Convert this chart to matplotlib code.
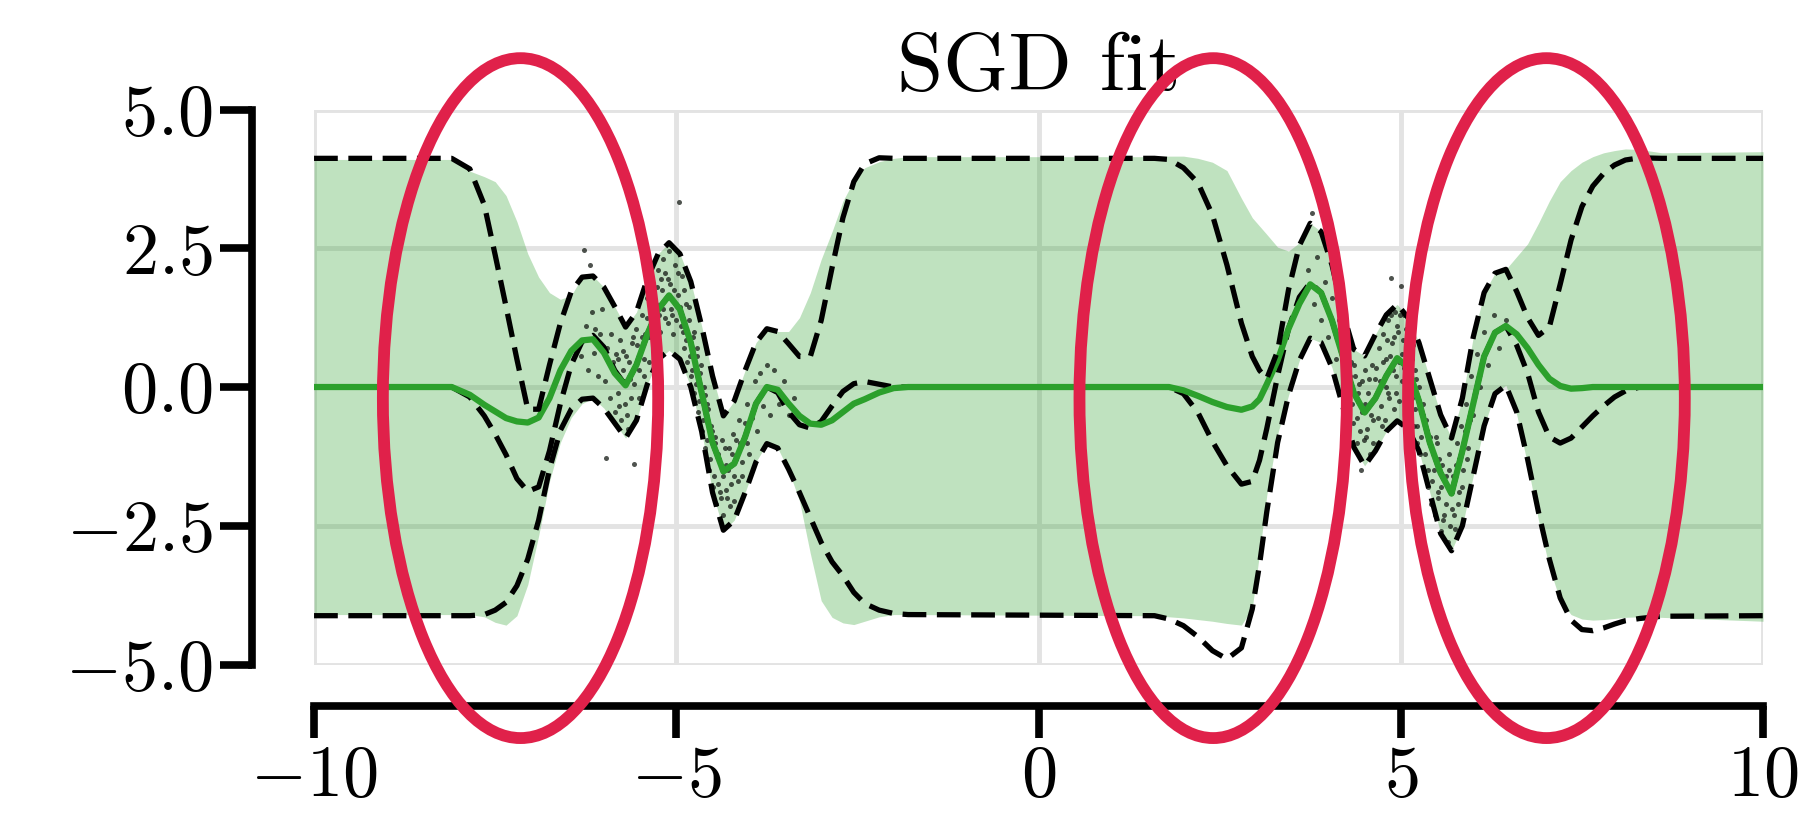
import matplotlib
matplotlib.use("Agg")
import matplotlib.pyplot as plt
from matplotlib.patches import Ellipse

# ---- data ----
x = [-10, -8.1, -7.85, -7.65, -7.5, -7.35, -7.2, -7.05, -6.9, -6.75,
     -6.6, -6.45, -6.3, -6.15, -6.0, -5.85, -5.7, -5.55, -5.4, -5.25,
     -5.1, -4.95, -4.8, -4.65, -4.5, -4.35, -4.2, -4.05, -3.9, -3.75,
     -3.6, -3.45, -3.3, -3.15, -3.0, -2.85, -2.7, -2.55, -2.4, -2.2,
     -2.0, -1.8,
     1.6, 1.8, 2.0, 2.2, 2.4, 2.6, 2.8, 2.95, 3.05, 3.15,
     3.3, 3.45, 3.6, 3.75, 3.9, 4.05, 4.2, 4.35, 4.5, 4.65,
     4.8, 4.95, 5.1, 5.25, 5.4, 5.55, 5.7, 5.85, 6.0, 6.15,
     6.3, 6.45, 6.6, 6.75, 6.9, 7.05, 7.2, 7.35, 7.5, 7.65,
     7.8, 7.95, 8.1, 8.3, 8.6, 10]

# SGD posterior mean (green line)
sgd_mean = [0, 0, -0.14, -0.32, -0.44, -0.56, -0.62, -0.64, -0.55, -0.20,
            0.30, 0.65, 0.84, 0.86, 0.62, 0.25, 0.03, 0.40, 0.95, 1.40,
            1.65, 1.40, 0.80, -0.10, -1.00, -1.52, -1.38, -0.90, -0.30, 0.00,
            -0.05, -0.30, -0.52, -0.66, -0.68, -0.60, -0.45, -0.30, -0.22, -0.10,
            -0.02, 0,
            0, 0, -0.06, -0.16, -0.27, -0.36, -0.41, -0.35, -0.22, 0.05,
            0.48, 1.05, 1.50, 1.85, 1.70, 1.20, 0.55, -0.10, -0.46, -0.20,
            0.20, 0.52, 0.35, -0.25, -1.00, -1.55, -1.92, -1.15, -0.30, 0.55,
            0.98, 1.10, 0.95, 0.70, 0.40, 0.15, 0.02, -0.03, -0.02, 0,
            0, 0, 0, 0, 0, 0]

# SGD +/- 2 std band (green fill)
sgd_upper = [4.10, 4.10, 3.89, 3.79, 3.70, 3.45, 2.98, 2.40, 1.98, 1.70,
             1.58, 1.65, 1.98, 2.00, 1.80, 1.45, 1.08, 1.35, 1.95, 2.40,
             2.60, 2.40, 1.90, 1.10, 0.20, -0.52, -0.25, 0.30, 0.80, 1.05,
             1.00, 1.00, 1.25, 1.70, 2.30, 2.80, 3.35, 3.72, 3.95, 4.06,
             4.12, 4.15,
             4.15, 4.16, 4.16, 4.12, 4.05, 3.90, 3.40, 3.05, 2.90, 2.75,
             2.52, 2.45, 2.60, 2.95, 2.80, 2.20, 1.35, 0.68, 0.56, 0.95,
             1.30, 1.49, 1.25, 0.80, 0.15, -0.50, -0.92, -0.20, 0.90, 1.70,
             2.05, 2.12, 2.35, 2.58, 2.95, 3.35, 3.70, 3.90, 4.05, 4.15,
             4.22, 4.26, 4.29, 4.28, 4.22, 4.24]
sgd_lower = [-4.10, -4.10, -4.10, -4.14, -4.24, -4.29, -4.12, -3.56, -2.68, -1.70,
             -1.00, -0.55, -0.30, -0.20, -0.38, -0.65, -0.92, -0.60, 0.05, 0.50,
             0.66, 0.50, 0.00, -0.80, -1.90, -2.58, -2.40, -1.90, -1.35, -1.02,
             -1.10, -1.50, -2.05, -3.00, -3.85, -4.15, -4.25, -4.28, -4.22, -4.14,
             -4.10, -4.10,
             -4.12, -4.14, -4.16, -4.19, -4.22, -4.26, -4.29, -3.98, -3.00, -1.95,
             -0.85, -0.15, 0.48, 0.88, 0.80, 0.35, -0.35, -1.08, -1.42, -1.15,
             -0.80, -0.61, -0.75, -1.15, -1.90, -2.64, -2.95, -2.50, -1.60, -0.70,
             -0.12, 0.03, -0.50, -1.40, -2.40, -3.25, -3.85, -4.10, -4.18, -4.20,
             -4.19, -4.17, -4.15, -4.14, -4.15, -4.22]

# exact GP mean and +/- 2 std (black dashed)
exact_mean = [0, 0, -0.18, -0.52, -0.85, -1.22, -1.65, -1.88, -1.80, -1.15,
              -0.30, 0.40, 0.82, 0.93, 0.72, 0.30, 0.03, 0.40, 0.95, 1.40,
              1.65, 1.40, 0.80, -0.10, -1.00, -1.52, -1.38, -0.90, -0.30, 0.00,
              -0.10, -0.45, -0.68, -0.74, -0.62, -0.34, -0.08, 0.06, 0.10, 0.05,
              0, 0,
              0, 0, -0.12, -0.46, -0.98, -1.42, -1.75, -1.70, -1.32, -0.75,
              0.20, 1.05, 1.62, 1.88, 1.70, 1.20, 0.55, -0.10, -0.46, -0.20,
              0.20, 0.52, 0.35, -0.25, -1.00, -1.55, -1.92, -1.15, -0.30, 0.55,
              0.98, 1.10, 0.75, 0.25, -0.45, -0.90, -1.01, -0.92, -0.72, -0.52,
              -0.34, -0.18, -0.07, 0, 0, 0]
exact_upper = [4.12, 4.12, 3.93, 3.28, 2.38, 1.45, 0.50, -0.40, -0.40, 0.40,
               1.15, 1.72, 1.98, 2.00, 1.80, 1.45, 1.08, 1.35, 1.95, 2.40,
               2.60, 2.40, 1.90, 1.10, 0.20, -0.52, -0.25, 0.30, 0.80, 1.05,
               1.00, 0.78, 0.55, 0.55, 1.20, 2.15, 3.05, 3.70, 4.02, 4.13,
               4.12, 4.12,
               4.12, 4.10, 3.95, 3.68, 3.10, 2.20, 1.15, 0.55, 0.30, 0.15,
               0.65, 1.75, 2.55, 2.95, 2.80, 2.20, 1.35, 0.68, 0.56, 0.95,
               1.30, 1.49, 1.25, 0.80, 0.15, -0.50, -0.92, -0.20, 0.90, 1.70,
               2.05, 2.12, 1.72, 1.25, 0.93, 1.08, 1.85, 2.65, 3.25, 3.62,
               3.85, 4.00, 4.09, 4.13, 4.12, 4.12]
exact_lower = [-4.12, -4.12, -4.12, -4.10, -4.02, -3.88, -3.58, -3.10, -2.40, -1.48,
               -0.78, -0.40, -0.22, -0.20, -0.38, -0.65, -0.92, -0.60, 0.05, 0.50,
               0.66, 0.50, 0.00, -0.80, -1.90, -2.58, -2.40, -1.90, -1.35, -1.02,
               -1.10, -1.48, -1.90, -2.35, -2.80, -3.15, -3.40, -3.70, -3.90, -4.02,
               -4.08, -4.10,
               -4.12, -4.18, -4.30, -4.50, -4.75, -4.90, -4.70, -4.00, -3.20, -2.25,
               -1.00, -0.15, 0.48, 0.88, 0.80, 0.35, -0.35, -1.08, -1.42, -1.15,
               -0.80, -0.61, -0.75, -1.15, -1.90, -2.64, -2.95, -2.50, -1.60, -0.70,
               -0.12, 0.03, -0.45, -1.30, -2.25, -3.10, -3.80, -4.20, -4.37, -4.39,
               -4.34, -4.27, -4.21, -4.17, -4.13, -4.12]

# observed data points
obs_x = [-6.32, -6.28, -6.25, -6.22, -6.19, -6.17, -6.14, -6.12, -6.08, -6.05,
         -6.02, -5.99, -5.97, -5.95, -5.92, -5.90, -5.88, -5.85, -5.83, -5.80,
         -5.78, -5.76, -5.73, -5.71, -5.69, -5.66, -5.64, -5.61, -5.59, -5.57,
         -5.55, -5.52, -5.50, -5.48, -5.45, -5.43, -5.40, -5.38, -5.35, -5.33,
         -5.30, -5.28, -5.25, -5.22, -5.20, -5.18, -5.15, -5.12, -5.10, -5.07,
         -5.05, -5.02, -4.98, -4.96, -4.94, -4.92, -4.90, -4.87, -4.85, -4.82,
         -4.80, -4.77, -4.75, -4.72, -4.70, -4.67, -4.65, -4.62, -4.60, -4.57,
         -4.55, -4.52, -4.50, -4.47, -4.45, -4.42, -4.40, -4.37, -4.35, -4.32,
         -4.30, -4.27, -4.25, -4.22, -4.20, -4.17, -4.14, -4.10, -4.07, -4.03,
         -4.00, -3.96, -3.92, -3.88, -3.84, -3.80, -3.75, -3.70, -3.65, -3.58,
         -3.52, -3.45, -3.38,
         -5.81, -5.79, -5.74, -5.72, -5.68, -5.65, -5.62, -5.60, -5.58, -5.54,
         -5.51, -5.47, -5.44, -5.41, -5.37, -5.34, -5.31, -5.27, -5.24, -5.21,
         -5.19, -5.16, -5.13, -5.11, -5.08, -5.06, -5.03, -5.00, -4.97, -4.95,
         -4.91, -4.89, -4.86, -4.83, -4.81, -4.78, -4.76, -4.73, -4.71, -4.68,
         -4.66, -4.63, -4.61, -4.58, -4.56, -4.53, -4.51, -4.48, -4.46, -4.43,
         -4.41, -4.38, -4.36, -4.33, -4.31, -4.28, -4.26, -4.23, -4.21, -4.18,
         -4.15, -4.12, -4.09, -4.05, -4.02,
         3.72, 3.78, 3.80, 3.85, 3.90, 3.95, 4.00, 4.05, 4.10, 4.15,
         4.20, 4.24, 4.28, 4.31, 4.34, 4.37, 4.40, 4.42, 4.45, 4.47,
         4.50, 4.52, 4.55, 4.57, 4.60, 4.62, 4.65, 4.68, 4.70, 4.72,
         4.75, 4.78, 4.80, 4.82, 4.84, 4.86, 4.88, 4.90, 4.92, 4.94,
         4.96, 4.98, 5.00, 5.02, 5.04, 5.06, 5.08, 5.10, 5.12, 5.14,
         5.16, 5.18, 5.20, 5.22, 5.25, 5.27, 5.30, 5.32, 5.35, 5.37,
         5.40, 5.42, 5.45, 5.47, 5.50, 5.52, 5.55, 5.57, 5.60, 5.62,
         5.65, 5.67, 5.70, 5.72, 5.75, 5.78, 5.80, 5.83, 5.86, 5.90,
         5.93, 5.97, 6.00, 6.05, 6.10, 6.15, 6.20, 6.28, 6.35, 6.45,
         4.30, 4.33, 4.36, 4.39, 4.41, 4.44, 4.46, 4.49, 4.51, 4.54,
         4.56, 4.59, 4.61, 4.64, 4.66, 4.69, 4.71, 4.74, 4.76, 4.79,
         4.81, 4.83, 4.85, 4.87, 4.89, 4.91, 4.93, 4.95, 4.97, 4.99,
         5.01, 5.03, 5.05, 5.07, 5.09, 5.11, 5.13, 5.15, 5.17, 5.19,
         5.21, 5.23, 5.26, 5.28, 5.31, 5.33, 5.36, 5.38, 5.41, 5.43,
         5.46, 5.48, 5.51, 5.53, 5.56, 5.58, 5.61, 5.63, 5.66, 5.68,
         5.71, 5.73, 5.76, 5.79, 5.81, 5.84, 5.88, 5.91, 5.95]
obs_y = [0.55, 2.47, 1.10, 0.30, 2.20, 1.35, 0.62, 1.05, 0.20, 0.95,
         1.40, 0.10, -1.28, 0.70, -0.20, 0.95, 0.45, -0.45, 0.60, -0.10,
         0.85, -0.60, 0.30, -0.30, 0.55, -0.75, 0.15, 0.80, -1.39, 0.35,
         1.05, -0.20, 0.60, 1.30, 0.20, 0.95, 1.60, 0.45, 1.20, 1.85,
         0.80, 1.50, 2.10, 1.00, 1.75, 2.30, 1.25, 1.95, 2.45, 1.40,
         0.95, 2.20, 1.65, 3.34, 1.10, 2.00, 0.70, 1.50, 0.45, 1.20,
         0.20, 0.90, -0.10, 0.55, -0.45, 0.25, -0.80, 0.00, -1.10, -0.30,
         -1.50, -0.70, -1.80, -0.90, -2.10, -1.20, -1.90, -0.95, -2.30, -1.40,
         -2.00, -1.10, -1.75, -0.85, -2.05, -1.30, -0.60, -1.60, -0.90, -0.30,
         -1.20, -0.55, 0.10, -0.80, 0.25, -0.35, 0.40, -0.50, 0.30, -0.30,
         0.10, -0.50, -0.20,
         0.50, -0.35, 0.65, 0.10, -0.50, 0.45, -0.20, 0.90, 0.05, 0.75,
         0.30, 0.90, 0.50, 1.25, 0.90, 1.55, 1.05, 1.80, 1.30, 1.95,
         1.40, 2.05, 1.60, 1.15, 1.85, 1.30, 1.75, 1.20, 2.05, 1.45,
         1.00, 1.75, 0.85, 1.45, 0.55, 0.30, 1.00, 0.05, 0.70, -0.25,
         0.40, -0.60, -0.15, -0.95, -0.40, -1.30, -0.80, -1.60, -1.00, -1.75,
         -1.30, -2.00, -1.60, -1.10, -1.85, -1.50, -2.15, -1.20, -1.60, -0.95,
         -1.70, -1.00, -1.35, -0.65, -1.00,
         2.10, 3.14, 1.50, 2.35, 1.20, 1.90, 0.90, 1.60, 0.50, 1.20,
         0.10, 0.85, -0.30, 0.45, -0.65, 0.20, -1.00, 0.05, -1.49, -0.45,
         0.30, -0.90, -0.10, -1.20, 0.40, -0.60, 0.15, -1.00, 0.70, -0.35,
         0.95, -0.60, 0.50, 1.20, -0.20, 1.96, 0.80, -0.40, 1.35, 0.20,
         1.00, -0.25, 1.82, 0.60, 1.30, -0.20, 0.90, 0.00, 1.10, -0.50,
         0.50, -0.70, 0.30, -1.00, 0.00, -1.20, -0.30, -1.50, -0.60, -1.80,
         -0.90, -2.10, -1.20, -2.30, -1.00, -1.90, -2.60, -1.40, -2.30, -1.60,
         -2.80, -1.20, -2.20, -1.60, -2.55, -1.00, -1.90, -0.70, -1.50, -0.30,
         -1.10, 0.20, -0.50, 0.60, 0.00, 1.00, 0.40, 1.30, 0.70, 1.20,
         0.20, -0.30, 0.40, -0.55, -0.10, -0.80, 0.10, -0.95, -0.30, -0.75,
         0.15, -0.50, -1.00, -0.20, 0.35, -0.55, 0.10, -0.70, 0.45, 0.00,
         0.85, -0.10, 0.55, 1.30, 0.30, 0.90, -0.10, 1.10, 0.45, 1.30,
         0.10, 0.85, 0.35, 1.05, -0.35, 0.60, 0.20, -0.20, 0.75, -0.40,
         0.15, -0.70, -0.30, -0.90, -0.50, -1.20, -0.80, -1.50, -1.10, -1.70,
         -1.50, -0.90, -2.00, -1.30, -1.80, -2.40, -1.70, -2.10, -1.50, -2.50,
         -1.90, -2.30, -1.40, -2.10, -1.30, -1.80, -0.80, -1.30, -0.60]

x_ticks = [-10, -5, 0, 5, 10]
x_tick_labels = ["$-10$", "$-5$", "$0$", "$5$", "$10$"]
y_ticks = [-5.0, -2.5, 0.0, 2.5, 5.0]
y_tick_labels = ["$-5.0$", "$-2.5$", "$0.0$", "$2.5$", "$5.0$"]

# highlighted regions (red ellipses)
ell_cx = [-7.15, 2.41, 7.01]
ell_w = [3.8, 3.69, 3.82]

# ---- plot ----
plt.rcParams["mathtext.fontset"] = "cm"
plt.rcParams["font.family"] = "serif"
plt.rcParams["font.serif"] = ["cmr10"]
plt.rcParams["axes.unicode_minus"] = False

fig = plt.figure(figsize=(18.09, 8.34), dpi=100)
ax = fig.add_axes([0.1736, 0.2032, 0.801, 0.6655])

ax.fill_between(x, sgd_lower, sgd_upper, color="tab:green", alpha=0.3, lw=0)
ax.scatter(obs_x, obs_y, s=13, c="#141a14", alpha=0.75, lw=0, zorder=2)
ax.plot(x, exact_mean, color="k", lw=3.8, ls=(0, (4.5, 2.0)), zorder=2.5)
ax.plot(x, sgd_mean, color="tab:green", lw=4.5, zorder=3)
for ys in (exact_upper, exact_lower):
    ax.plot(x, ys, color="k", lw=3.8, ls=(0, (4.5, 2.0)), zorder=4)

for cx, w in zip(ell_cx, ell_w):
    ax.add_patch(Ellipse((cx, -0.2), w, 12.25, fill=False, ec="#e0214a",
                         lw=8.5, clip_on=False, zorder=10))

ax.set_xlim(-10, 10)
ax.set_ylim(-5, 5)
ax.set_xticks(x_ticks)
ax.set_xticklabels(x_tick_labels)
ax.set_yticks(y_ticks)
ax.set_yticklabels(y_tick_labels)
ax.grid(True, color="#e3e3e3", lw=3.5)
ax.set_axisbelow(True)

for s in ["top", "right"]:
    ax.spines[s].set_visible(False)
ax.spines["left"].set_position(("outward", 45))
ax.spines["bottom"].set_position(("outward", 30))
ax.spines["left"].set_bounds(-5, 5)
ax.spines["bottom"].set_bounds(-10, 10)
for s in ["left", "bottom"]:
    ax.spines[s].set_linewidth(5.5)
ax.tick_params(width=5.5, length=23, labelsize=52, pad=5)

ax.set_title("SGD fit", fontsize=60, pad=14)

fig.savefig("out.png", dpi=100)
